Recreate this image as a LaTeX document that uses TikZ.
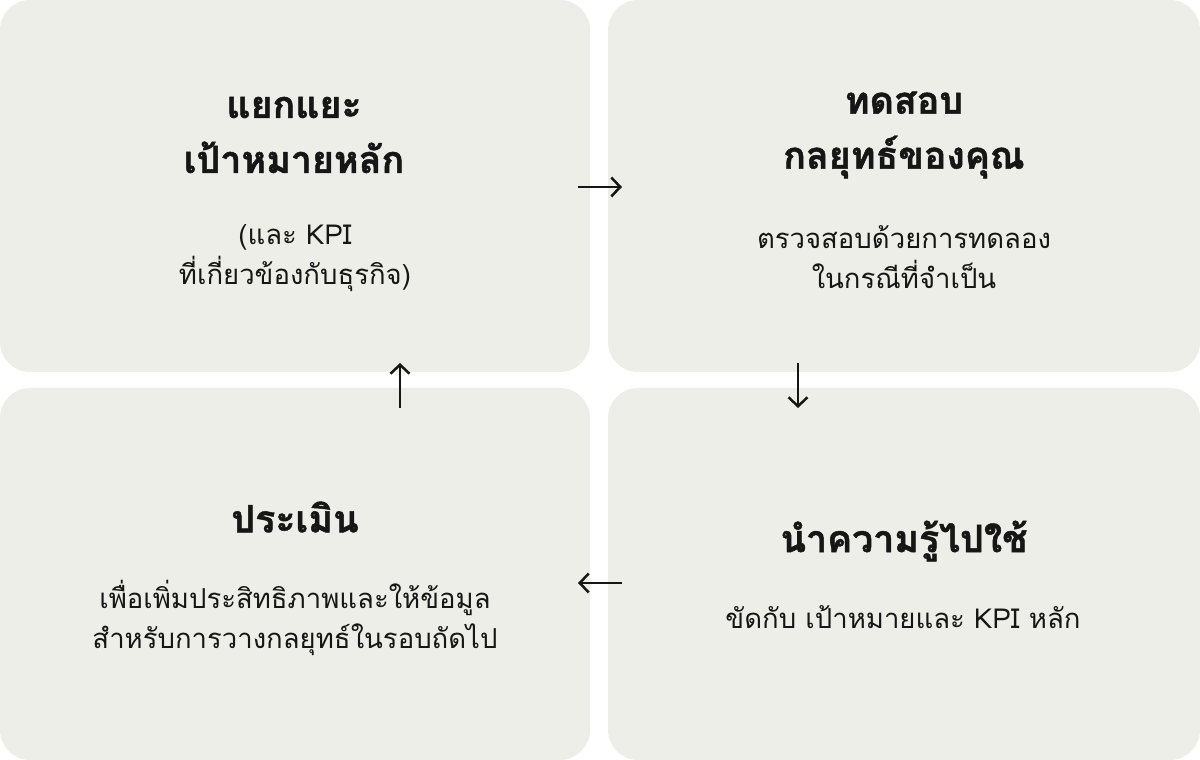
\documentclass[tikz,border=0pt]{standalone}
\usepackage{fontspec}
\setmainfont[Script=Thai,BoldFeatures={FakeBold=1.3}]{Loma}
\usetikzlibrary{arrows.meta}
\definecolor{boxgray}{HTML}{EEEEE9}
\definecolor{ink}{HTML}{161616}
\tikzset{
  card/.style={fill=boxgray, rounded corners=30pt, minimum height=372pt, inner sep=0pt},
  heading/.style={font=\fontsize{37.5}{55}\selectfont\bfseries, text=ink, align=center},
  blurb/.style={font=\fontsize{27.5}{40}\selectfont, text=ink, align=center},
  flow/.style={line width=2.5pt, draw=ink, -{Straight Barb[length=9pt,width=19pt]}}
}

\begin{document}
\begin{tikzpicture}[x=1pt,y=1pt]
  \useasboundingbox (0,0) rectangle (1200,760);
  % the four cards
  \node[card, minimum width=590pt] (define) at (295,574) {};
  \node[card, minimum width=592pt] (test) at (904,574) {};
  \node[card, minimum width=592pt] (apply) at (904,186) {};
  \node[card, minimum width=590pt] (assess) at (295,186) {};

  \node[heading] (defineT) at (294,625) {แยกแยะ\\เป้าหมายหลัก};
  \node[blurb] (defineB) at (295,502) {(และ KPI\\ที่เกี่ยวข้องกับธุรกิจ)};
  \node[heading] (testT) at (904,625) {ทดสอบ\\กลยุทธ์ของคุณ};
  \node[blurb] (testB) at (904,503) {ตรวจสอบด้วยการทดลอง\\ในกรณีที่จำเป็น};
  \node[heading] (applyT) at (904,219) {นำความรู้ไปใช้};
  \node[blurb] (applyB) at (903,143) {ขัดกับ เป้าหมายและ KPI หลัก};
  \node[heading] (assessT) at (295,243) {ประเมิน};
  \node[blurb] (assessB) at (295,142) {เพื่อเพิ่มประสิทธิภาพและให้ข้อมูล\\สำหรับการวางกลยุทธ์ในรอบถัดไป};

  % arrow ends in the gaps
  \coordinate (r1) at (578,573);
  \coordinate (r2) at (622,573);
  \coordinate (d1) at (798,397);
  \coordinate (d2) at (798,352);
  \coordinate (l1) at (622,177);
  \coordinate (l2) at (578,177);
  \coordinate (u1) at (400,352);
  \coordinate (u2) at (400,397);
  \draw[flow] (r1) -- (r2);
  \draw[flow] (d1) -- (d2);
  \draw[flow] (l1) -- (l2);
  \draw[flow] (u1) -- (u2);
\end{tikzpicture}
\end{document}
